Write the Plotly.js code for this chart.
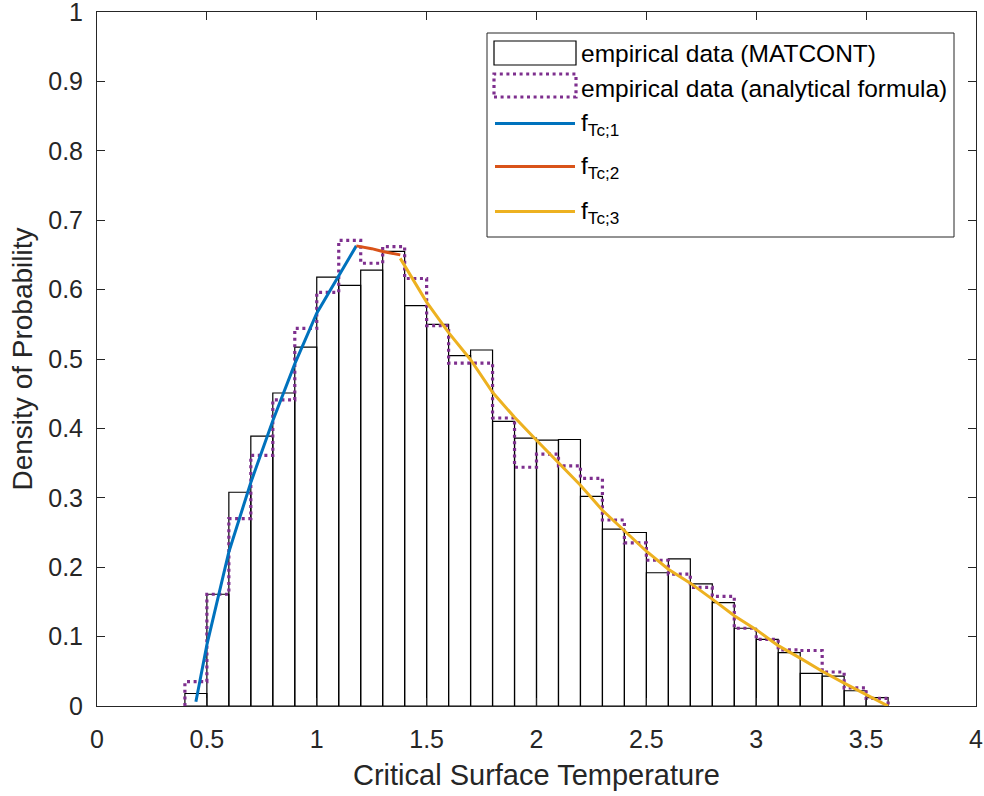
<!DOCTYPE html>
<html>
<head>
<meta charset="utf-8">
<script src="https://cdn.plot.ly/plotly-3.0.1.min.js"></script>
<style>
  html, body { margin: 0; padding: 0; background: #ffffff; }
  #chart { width: 984px; height: 796px; }
</style>
</head>
<body>
<div id="chart"></div>
<script>
// ---- data ----
// left edges of the histogram bins (bin width 0.1)
const binLeft = [0.4, 0.5, 0.6, 0.7, 0.8, 0.9, 1.0, 1.1, 1.2, 1.3, 1.4, 1.5, 1.6, 1.7, 1.8, 1.9,
                 2.0, 2.1, 2.2, 2.3, 2.4, 2.5, 2.6, 2.7, 2.8, 2.9, 3.0, 3.1, 3.2, 3.3, 3.4, 3.5];
const binWidth = 0.1;

// empirical data (MATCONT) — histogram densities
const matcont = [0.018, 0.161, 0.308, 0.389, 0.451, 0.517, 0.618, 0.606, 0.628, 0.655, 0.577, 0.550,
                 0.505, 0.513, 0.410, 0.386, 0.383, 0.384, 0.302, 0.255, 0.250, 0.192, 0.212, 0.176,
                 0.149, 0.112, 0.096, 0.077, 0.047, 0.043, 0.022, 0.012];

// empirical data (analytical formula) — histogram densities (stairs)
const analytical = [0.035, 0.161, 0.270, 0.361, 0.441, 0.544, 0.596, 0.671, 0.638, 0.662, 0.616, 0.548,
                    0.494, 0.494, 0.415, 0.344, 0.363, 0.346, 0.328, 0.268, 0.235, 0.210, 0.190, 0.171,
                    0.158, 0.112, 0.096, 0.081, 0.080, 0.049, 0.026, 0.011];

// fitted density pieces
const f1x = [0.45, 0.50, 0.60, 0.70, 0.80, 0.90, 1.00, 1.10, 1.18];
const f1y = [0.006, 0.088, 0.222, 0.322, 0.411, 0.493, 0.566, 0.621, 0.663];

const f2x = [1.18, 1.25, 1.30, 1.38];
const f2y = [0.663, 0.659, 0.655, 0.650];

const f3x = [1.38, 1.50, 1.60, 1.70, 1.80, 1.90, 2.00, 2.10, 2.20, 2.30, 2.40, 2.50,
             2.60, 2.70, 2.80, 2.90, 3.00, 3.10, 3.20, 3.30, 3.40, 3.50, 3.60];
const f3y = [0.645, 0.582, 0.538, 0.499, 0.452, 0.416, 0.383, 0.350, 0.318, 0.282, 0.252, 0.223,
             0.197, 0.177, 0.154, 0.130, 0.110, 0.087, 0.069, 0.050, 0.033, 0.016, 0.000];

const xTicks = [0, 0.5, 1, 1.5, 2, 2.5, 3, 3.5, 4];
const xTickText = ['0', '0.5', '1', '1.5', '2', '2.5', '3', '3.5', '4'];
const yTicks = [0, 0.1, 0.2, 0.3, 0.4, 0.5, 0.6, 0.7, 0.8, 0.9, 1];
const yTickText = ['0', '0.1', '0.2', '0.3', '0.4', '0.5', '0.6', '0.7', '0.8', '0.9', '1'];

const legendLabels = ['empirical data (MATCONT)', 'empirical data (analytical formula)',
                      'f<sub>Tc;1</sub>', 'f<sub>Tc;2</sub>', 'f<sub>Tc;3</sub>'];

// ---- styles ----
const C_AX = '#262626';
const C_BLUE = '#0072BD', C_ORANGE = '#D95319', C_YELLOW = '#EDB120', C_PURPLE = '#7E2F8E';
const FONT = 'Liberation Sans, Arial, Helvetica, sans-serif';

// bar centres
const binCenter = binLeft.map(v => +(v + binWidth / 2).toFixed(3));

// stairs outline for the analytical histogram
const stX = [binLeft[0]], stY = [0];
for (let i = 0; i < binLeft.length; i++) { stX.push(binLeft[i]); stY.push(analytical[i]); }
const lastEdge = +(binLeft[binLeft.length - 1] + binWidth).toFixed(3);
stX.push(lastEdge); stY.push(analytical[analytical.length - 1]);
stX.push(lastEdge); stY.push(0);

const traces = [
  { type: 'bar', x: binCenter, y: matcont, width: binWidth,
    marker: { color: 'rgba(255,255,255,0)', line: { color: '#000000', width: 1.2 } },
    name: legendLabels[0], showlegend: false, hoverinfo: 'x+y' },
  { type: 'scatter', mode: 'lines', x: stX, y: stY,
    line: { shape: 'hv', color: C_PURPLE, width: 3.2, dash: '3px,3.6px' },
    name: legendLabels[1], showlegend: false },
  { type: 'scatter', mode: 'lines', x: f1x, y: f1y, line: { color: C_BLUE, width: 3 },
    name: legendLabels[2], showlegend: false },
  { type: 'scatter', mode: 'lines', x: f2x, y: f2y, line: { color: C_ORANGE, width: 3 },
    name: legendLabels[3], showlegend: false },
  { type: 'scatter', mode: 'lines', x: f3x, y: f3y, line: { color: C_YELLOW, width: 3 },
    name: legendLabels[4], showlegend: false }
];

// ---- custom legend (MATLAB style box) in paper coordinates ----
const W = 879, H = 694, L = 97, T = 12;
const px = v => (v - L) / W;
const py = v => (T + H - v) / H;

const shapes = [
  { type: 'rect', xref: 'paper', yref: 'paper', x0: px(487), x1: px(954), y0: py(237), y1: py(33),
    line: { color: C_AX, width: 1 }, fillcolor: '#ffffff', layer: 'above' },
  { type: 'rect', xref: 'paper', yref: 'paper', x0: px(494), x1: px(576), y0: py(65), y1: py(41),
    line: { color: '#000000', width: 1.2 }, fillcolor: 'rgba(0,0,0,0)', layer: 'above' },
  { type: 'rect', xref: 'paper', yref: 'paper', x0: px(494), x1: px(576), y0: py(97), y1: py(74),
    line: { color: C_PURPLE, width: 3.2, dash: '3px,3.6px' }, fillcolor: 'rgba(0,0,0,0)', layer: 'above' },
  { type: 'line', xref: 'paper', yref: 'paper', x0: px(495), x1: px(575), y0: py(123.5), y1: py(123.5),
    line: { color: C_BLUE, width: 3 }, layer: 'above' },
  { type: 'line', xref: 'paper', yref: 'paper', x0: px(495), x1: px(575), y0: py(166.5), y1: py(166.5),
    line: { color: C_ORANGE, width: 3 }, layer: 'above' },
  { type: 'line', xref: 'paper', yref: 'paper', x0: px(495), x1: px(575), y0: py(211.5), y1: py(211.5),
    line: { color: C_YELLOW, width: 3 }, layer: 'above' }
];

const legY = [53, 88, 125, 168, 213];
const annotations = legendLabels.map((t, i) => ({
  xref: 'paper', yref: 'paper', x: px(579), y: py(legY[i]), xanchor: 'left', yanchor: 'middle',
  text: t, showarrow: false, font: { family: FONT, size: 24.5, color: '#000000' }
}));

const axisCommon = {
  showgrid: false, zeroline: false, showline: true, linecolor: C_AX, linewidth: 1,
  mirror: 'ticks', ticks: 'inside', ticklen: 8, tickwidth: 1, tickcolor: C_AX,
  tickfont: { family: FONT, size: 25, color: C_AX }, tickmode: 'array',
  ticklabeloverflow: 'allow'
};

const layout = {
  width: 984, height: 796,
  margin: { l: L, r: 984 - L - W, t: T, b: 796 - T - H, pad: 0 },
  paper_bgcolor: '#ffffff', plot_bgcolor: '#ffffff',
  showlegend: false, bargap: 0,
  xaxis: Object.assign({}, axisCommon, {
    range: [0, 4], tickvals: xTicks, ticktext: xTickText, ticklabelstandoff: 11,
    title: { text: 'Critical Surface Temperature', font: { family: FONT, size: 29, color: C_AX }, standoff: 12 }
  }),
  yaxis: Object.assign({}, axisCommon, {
    range: [0, 1], tickvals: yTicks, ticktext: yTickText, ticklabelstandoff: 8,
    title: { text: 'Density of Probability', font: { family: FONT, size: 28, color: C_AX }, standoff: 7 }
  }),
  shapes: shapes,
  annotations: annotations
};

Plotly.newPlot('chart', traces, layout, { staticPlot: true, displayModeBar: false });
</script>
</body>
</html>
